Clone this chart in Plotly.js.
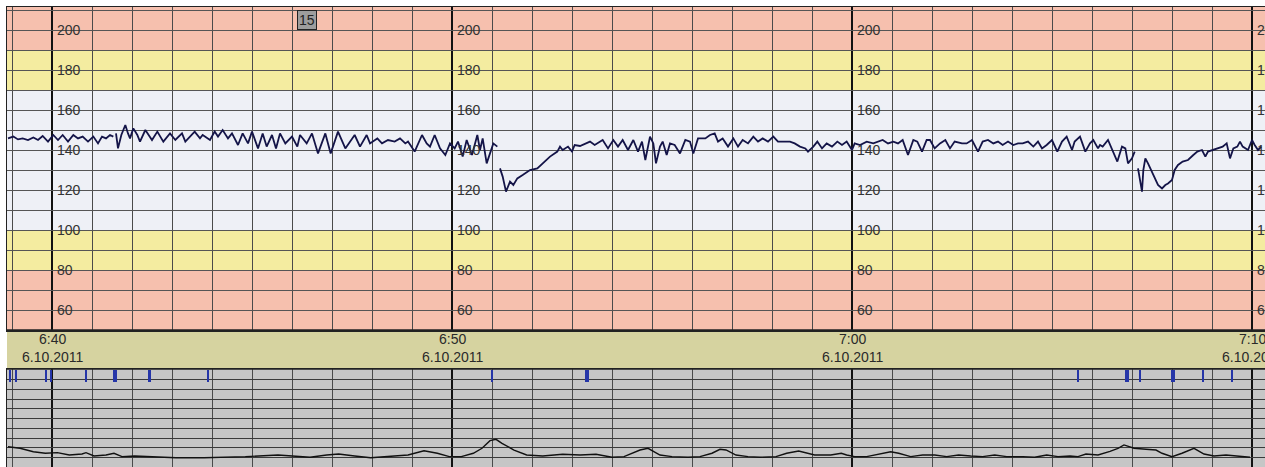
<!DOCTYPE html>
<html>
<head>
<meta charset="utf-8">
<script src="https://cdn.plot.ly/plotly-3.0.1.min.js"></script>
<style>
  html, body { margin: 0; padding: 0; background: #ffffff; }
  #chart { width: 1265px; height: 467px; }
</style>
</head>
<body>
<div id="chart"></div>
<script>
// Time is given in seconds relative to 6:40 (6.10.2011)
const fhrTime = [
  -66,-58,-51,-44,-36,-28,-21,-14,-6,2,9,16,24,32,39,46,54,62,69,75,81,87,92,94,96,99,104,110,114,117,122,128,132,140,150,158,167,177,185,195,
  200,214,222,226,237,244,249,256,264,270,279,286,294,300,309,316,322,330,336,342,350,360,368,372,382,390,399,410,418,429,440,450,454,462,472,
  477,488,495,504,514,522,530,534,544,555,562,567,574,582,590,597,604,609,616,622,630,638,642,646,652,657,662,668,670,672,676,681,687,692,698,706,717,728,736,747,758,
  762,766,774,780,784,792,800,807,814,819,826,834,842,849,856,864,872,879,885,890,897,902,906,912,916,922,927,934,942,950,957,962,969,980,987,994,999,1006,1014,1022,1029,
  1036,1044,1052,1059,1066,1074,1082,1089,1096,1107,1114,1122,1130,1134,1142,1148,1155,1162,1170,1178,1185,1192,1200,1204,1212,1222,1232,1239,1246,1254,1262,1269,1276,1284,1292,1298,1305,
  1312,1317,1324,1332,1340,1347,1354,1365,1372,1380,1389,1396,1404,1412,1419,1426,1434,1442,1449,1456,1464,1472,1479,1485,1492,1500,1508,1515,1522,1530,1534,1542,1550,1557,1562,1569,
  1572,1576,1584,1592,1598,1605,1610,1614,1620,1624,1628,1629,1632,1635,1637,1640,1644,1650,1654,1659,1665,1670,1674,1680,1684,1689,1696,1704,1712,1718,1725,1730,1734,1742,1749,1756,1762,1767,1772,1778,1782,1786,1794,1800,1804,1809,1814
];
const fhrBpm = [
  145.8,146.7,145.3,145.8,145,146.3,145,147,144.2,147.5,145,147.5,144.2,147.5,145.8,146.7,144.2,146.7,143.3,146.7,145.8,147.5,146.7,null,148.3,140.8,147.5,152.5,148.3,145.8,150.8,147.5,144.2,150,145,149.2,144.2,148.3,145,148.3,
  144.2,149.2,145.8,147.5,145,149.2,146.7,150,145.8,148.3,142.5,148.3,143.3,149.2,140.8,148.3,141.7,147.5,140.8,148.3,143.3,146.7,141.7,147.5,143.3,148.3,138.3,148.3,138.3,149.2,140.8,145.8,147.5,141.7,147.5,
  143.3,145.8,143.3,145,144.2,145.8,143.3,144.2,139.2,147.5,143.3,141.7,147.5,140.8,137.5,143.3,140.8,144.2,136.7,145,137.5,147.5,140,145.8,133.3,138.3,143.3,141.7,null,130.8,126.7,119.2,124.2,122.5,125.8,127.5,130,130.8,133.3,136.7,139.2,
  141.7,140,141.7,139.2,142.5,142,143.3,144.2,142.5,143.7,145,140.8,145,141.7,145,140,145,139.2,144.2,135,146.7,143.3,133.3,141.7,144.2,137.5,143.3,142.5,138.3,145,144.2,138.3,145.8,145.8,147.5,148.3,144.2,145.8,141.7,145.8,141.7,
  145,143.3,146.7,144.2,145.8,144.2,146.7,144.2,144.2,144.2,143.3,141.7,140.8,139.2,141.7,144.2,140.8,143.3,141.7,144.2,142.5,144.2,140,143.3,142.5,144.2,143.3,144.2,145,143.3,144.2,143.3,145,137.5,145,144.2,139.2,
  145,145,140.8,143.3,145,140.8,144.2,143.3,143.3,145,139.2,144.2,145,143.3,144.2,142.5,144.2,142.5,143.3,143.3,144.2,141.7,144.2,140.8,142.5,145,139.2,144.2,146.7,140,144.2,146.7,139.2,143.3,145,140.8,
  142.5,141.7,145,138.3,134.2,141.7,140.8,133.3,135.8,139.2,null,130.8,124.2,119.2,130,135.8,133.3,129.2,125.8,122.5,120.8,122.5,123.3,125,130,132.5,134.2,135,137.5,139.2,140,136.7,139.2,140,140.8,141.7,143.3,135.8,140.8,141.7,144.2,141.7,140,145,142.5,140,141.7
];

const tocoTime = [
  -66,-48,-28,-10,8,26,45,51,63,81,93,105,124,142,166,186,228,290,339,363,387,412,430,454,478,534,558,578,596,614,632,645,657,666,675,693,712,736,766,792,816,840,858,
  882,894,912,930,954,972,990,1002,1011,1026,1044,1062,1086,1102,1120,1132,1144,1168,1184,1192,1204,1222,1240,1258,1270,1288,1306,1324,1342,1360,1378,1396,1414,1432,1456,1474,1492,1509,1527,1539,1551,1569,1587,1599,1608,1623,1641,1656,1665,1680,1695,1713,1728,1743,1761,1779,1797
];
const tocoVal = [
  21.3,19.7,16.2,14.6,15.2,12.8,13.8,15.2,11.8,12.8,14.6,11.1,11.8,11.1,10.5,10,10,11.1,12.8,11.8,10.5,12.8,13.8,11.8,10,12.8,17.2,14.6,11.1,11.1,14.6,19.7,27.5,28.9,24.8,17.9,12.8,11.8,13.5,12.8,13.5,10.5,11.1,
  17.9,19.7,12.8,11.1,10.5,11.1,14.6,18.7,18,12.8,11.1,10.5,11.1,14.6,16.9,15.2,12.8,12.8,14.6,12.8,11.1,11.1,13.5,16.2,14.6,11.1,12.8,12.8,11.1,12.8,11.8,11.1,12.8,11.1,11.1,10.5,12.8,11.1,11.8,11.1,13.8,12.8,16.6,19.7,23.1,19.7,18.7,17.9,14.6,11.1,14.6,19.7,13.8,11.8,12.8,11.8,10.5
];

// fetal movement events (time in s, duration in s)
const eventTime = [-63,-54,-9,-2,51,94,146,234,660,802,1539,1612,1632,1682,1726,1770];
const eventDur  = [3.5,3.5,3.5,3.5,3.5,6,3.5,3.5,3.5,6,3.5,6,3.5,6,3.5,3.5];

const timeTickVals = [0, 600, 1200, 1800];
const timeTickText = ['6:40<br>6.10.2011', '6:50<br>6.10.2011', '7:00<br>6.10.2011', '7:10<br>6.10.2011'];
const bpmLabels = [200, 180, 160, 140, 120, 100, 80, 60];

const bands = [
  {from: 190, to: 215, color: '#f6c0ae'},
  {from: 170, to: 190, color: '#f4eca0'},
  {from: 100, to: 170, color: '#eef0f6'},
  {from: 80,  to: 100, color: '#f4eca0'},
  {from: 45,  to: 80,  color: '#f6c0ae'}
];

const FONT = "'Liberation Sans Narrow', 'Liberation Sans', Arial, sans-serif";
const topDom = [1 - 330/467, 1 - 7/467];
const botDom = [0, 1 - 369/467];
const xRange = [-67.5, 1819.5];

const traces = [
  {
    x: fhrTime, y: fhrBpm, xaxis: 'x', yaxis: 'y',
    type: 'scatter', mode: 'lines', connectgaps: false,
    line: {color: '#141448', width: 1.8}, hoverinfo: 'skip'
  },
  {
    x: tocoTime, y: tocoVal, xaxis: 'x2', yaxis: 'y2',
    type: 'scatter', mode: 'lines',
    line: {color: '#111111', width: 1.4}, hoverinfo: 'skip'
  },
  {
    x: eventTime, y: eventTime.map(() => 12), base: 88, width: eventDur,
    xaxis: 'x2', yaxis: 'y2', type: 'bar',
    marker: {color: '#2535a8', line: {width: 0}}, hoverinfo: 'skip'
  }
];

const shapes = [];
bands.forEach(b => shapes.push({
  type: 'rect', xref: 'paper', yref: 'y', x0: 0, x1: 1, y0: b.from, y1: b.to,
  fillcolor: b.color, line: {width: 0}, layer: 'below'
}));
shapes.push({type: 'rect', xref: 'paper', yref: 'y2', x0: 0, x1: 1, y0: 0, y1: 101,
  fillcolor: '#c6c6c6', line: {width: 0}, layer: 'below'});
shapes.push({type: 'rect', xref: 'paper', yref: 'paper', x0: 0, x1: 1, y0: botDom[1], y1: topDom[0],
  fillcolor: '#d6d3a0', line: {width: 0}, layer: 'below'});
shapes.push({type: 'line', xref: 'paper', yref: 'paper', x0: 0, x1: 1, y0: topDom[0], y1: topDom[0],
  line: {color: '#222', width: 1.5}});
shapes.push({type: 'line', xref: 'paper', yref: 'paper', x0: 0, x1: 1, y0: botDom[1], y1: botDom[1],
  line: {color: '#222', width: 1.5}});

const annotations = [];
timeTickVals.forEach(t => {
  bpmLabels.forEach(v => annotations.push({
    x: t, y: v, xref: 'x', yref: 'y', text: String(v), showarrow: false,
    xanchor: 'left', yanchor: 'middle', xshift: 3,
    font: {family: FONT, size: 14, color: '#333333'}
  }));
});
timeTickVals.forEach((t, i) => annotations.push({
  x: t, y: 1 - 348/467, xref: 'x', yref: 'paper', text: timeTickText[i], showarrow: false,
  xanchor: 'center', yanchor: 'middle', align: 'center',
  font: {family: FONT, size: 14, color: '#2a2a2a'}
}));
annotations.push({
  x: 382, y: 205, xref: 'x', yref: 'y', text: '15', showarrow: false,
  xanchor: 'center', yanchor: 'middle', bgcolor: '#9d9d9d', bordercolor: '#222', borderwidth: 1, borderpad: 1,
  font: {family: FONT, size: 14, color: '#222'}
});

const xCommon = {
  range: xRange, tick0: 0, dtick: 600, showgrid: true, gridcolor: '#111111', gridwidth: 2,
  minor: {tick0: 0, dtick: 60, showgrid: true, gridcolor: '#4a4a4a', gridwidth: 1},
  showticklabels: false, ticks: '', zeroline: false, fixedrange: true,
  showline: true, linecolor: '#222', linewidth: 1.5, mirror: true
};

const layout = {
  width: 1265, height: 467,
  margin: {l: 7, r: 0, t: 0, b: 0, pad: 0},
  paper_bgcolor: '#ffffff', plot_bgcolor: 'rgba(0,0,0,0)',
  showlegend: false, hovermode: false, bargap: 0,
  xaxis: Object.assign({}, xCommon, {domain: [0, 1], anchor: 'y'}),
  yaxis: {domain: topDom, range: [50, 211.5], tick0: 0, dtick: 10, showgrid: true,
    gridcolor: '#555555', gridwidth: 1, showticklabels: false, ticks: '', zeroline: false,
    showline: true, linecolor: '#222', linewidth: 1.5, mirror: true, anchor: 'x'},
  xaxis2: Object.assign({}, xCommon, {domain: [0, 1], anchor: 'y2'}),
  yaxis2: {domain: botDom, range: [0.5, 101], tick0: 0, dtick: 10, showgrid: true,
    gridcolor: '#3a3a3a', gridwidth: 1, showticklabels: false, ticks: '', zeroline: false,
    showline: true, linecolor: '#222', linewidth: 1.5, mirror: true, anchor: 'x2'},
  shapes: shapes,
  annotations: annotations
};

Plotly.newPlot('chart', traces, layout, {displayModeBar: false, staticPlot: true});
</script>
</body>
</html>
